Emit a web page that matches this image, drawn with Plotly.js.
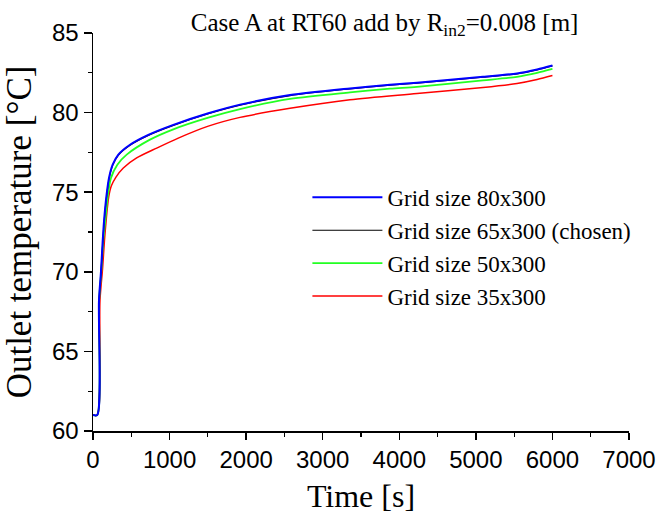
<!DOCTYPE html>
<html>
<head>
<meta charset="utf-8">
<script src="https://cdn.plot.ly/plotly-3.0.1.min.js"></script>
<style>html,body{margin:0;padding:0;background:#fff;}#chart{width:660px;height:518px;}</style>
</head>
<body>
<div id="chart"></div>
<script>
// Time [s] and outlet temperature [°C]
const tBlue  = [0, 55, 78, 104, 125, 144, 178, 209, 257, 331, 483, 722, 1049, 1506, 1920, 2573, 3356, 3879, 4231, 5093, 5537, 5800, 6000];
const yBlue  = [61, 61, 68.2, 70.0, 71.8, 73.19, 74.86, 75.9, 76.73, 77.36, 77.98, 78.6, 79.23, 79.96, 80.5, 81.1, 81.52, 81.75, 81.88, 82.25, 82.46, 82.71, 82.96];

const tBlack = [0, 55, 79, 105, 126, 145, 179, 210, 258, 332, 484, 723, 1050, 1507, 1921, 2574, 3357, 3880, 4232, 5094, 5538, 5801, 6000];
const yBlack = [61, 61, 68.1, 69.9, 71.7, 73.1, 74.8, 75.85, 76.7, 77.33, 77.95, 78.57, 79.2, 79.93, 80.47, 81.07, 81.49, 81.72, 81.85, 82.22, 82.43, 82.68, 82.93];

const tGreen = [0, 55, 80, 108, 135, 160, 196, 235, 318, 440, 744, 1049, 1506, 1920, 2573, 3356, 3879, 4231, 5093, 5537, 5800, 6000];
const yGreen = [61, 61, 68.2, 70.0, 72.0, 73.19, 74.86, 75.9, 76.73, 77.36, 78.3, 78.95, 79.68, 80.22, 80.86, 81.27, 81.5, 81.62, 82.02, 82.25, 82.5, 82.75];

const tRed   = [0, 55, 91, 125, 150, 175, 205, 240, 300, 396, 570, 832, 1114, 1506, 1920, 2573, 3356, 4231, 5093, 5537, 5800, 6000];
const yRed   = [61, 61, 68.2, 70.2, 72.0, 73.4, 74.7, 75.4, 75.95, 76.52, 77.15, 77.77, 78.4, 79.15, 79.7, 80.27, 80.81, 81.2, 81.58, 81.83, 82.08, 82.33];

const names = ["Grid size 80x300", "Grid size 65x300 (chosen)", "Grid size 50x300", "Grid size 35x300"];

const xTickVals = [0, 1000, 2000, 3000, 4000, 5000, 6000, 7000];
const yTickVals = [60, 65, 70, 75, 80, 85];

const serif = "Liberation Serif, Times New Roman, serif";
const sans = "Liberation Sans, Arial, sans-serif";

const data = [
  {x: tRed, y: yRed, name: names[3], mode: "lines", line: {color: "#ff0000", width: 1.5, shape: "spline", smoothing: 0.8}},
  {x: tGreen, y: yGreen, name: names[2], mode: "lines", line: {color: "#22ff22", width: 1.8, shape: "spline", smoothing: 0.8}},
  {x: tBlack, y: yBlack, name: names[1], mode: "lines", line: {color: "#000000", width: 1.2, shape: "spline", smoothing: 0.8}},
  {x: tBlue, y: yBlue, name: names[0], mode: "lines", line: {color: "#0000ff", width: 2, shape: "spline", smoothing: 0.8}}
];

const layout = {
  width: 660, height: 518,
  margin: {l: 93, r: 31, t: 33, b: 87},
  paper_bgcolor: "#ffffff", plot_bgcolor: "#ffffff",
  showlegend: true,
  title: {
    text: "Case A at RT60 add by R<sub>in2</sub>=0.008 [m]",
    font: {family: serif, size: 25, color: "#000"},
    xref: "paper", x: 0.544, xanchor: "center",
    yref: "container", y: 0.958, yanchor: "middle"
  },
  legend: {
    x: 0.40, y: 0.641, xanchor: "left", yanchor: "top",
    traceorder: "reversed",
    bgcolor: "rgba(0,0,0,0)", borderwidth: 0,
    font: {family: serif, size: 23, color: "#000"},
    itemwidth: 70
  },
  xaxis: {
    range: [0, 7000], tickvals: xTickVals,
    showgrid: false, zeroline: false,
    showline: true, linecolor: "#000", linewidth: 1.5,
    ticks: "outside", ticklen: 7, tickwidth: 1.5, tickcolor: "#000",
    minor: {dtick: 500, ticks: "outside", ticklen: 4, tickwidth: 1.2, tickcolor: "#000", showgrid: false},
    tickfont: {family: sans, size: 24, color: "#000"},
    title: {text: "Time [s]", font: {family: serif, size: 32, color: "#000"}, standoff: 12}
  },
  yaxis: {
    range: [60, 85], tickvals: yTickVals,
    showgrid: false, zeroline: false,
    showline: true, linecolor: "#000", linewidth: 1.5,
    ticks: "outside", ticklen: 8, tickwidth: 1.5, tickcolor: "#000",
    minor: {dtick: 2.5, ticks: "outside", ticklen: 4, tickwidth: 1.2, tickcolor: "#000", showgrid: false},
    tickfont: {family: sans, size: 24, color: "#000"},
    title: {text: "Outlet temperature [°C]", font: {family: serif, size: 35, color: "#000"}, standoff: 9}
  }
};

Plotly.newPlot("chart", data, layout, {displayModeBar: false, staticPlot: true});
</script>
</body>
</html>
